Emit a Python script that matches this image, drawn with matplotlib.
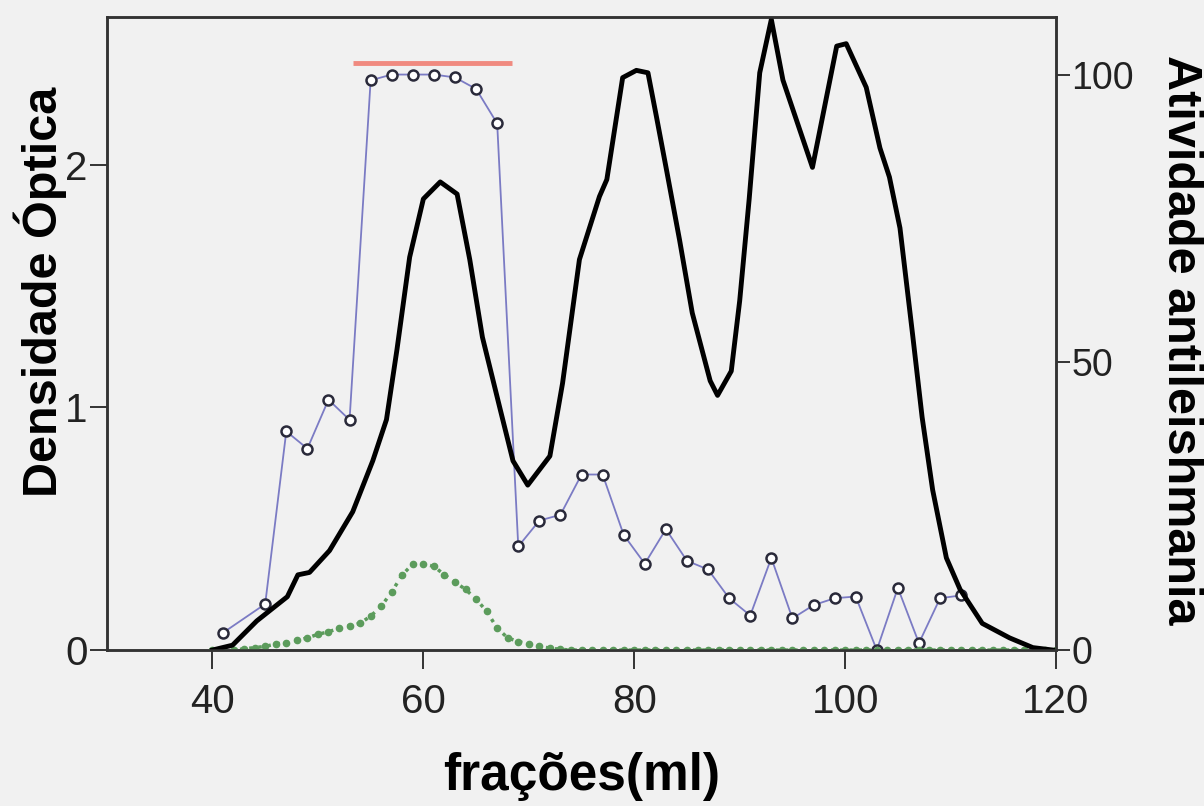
import matplotlib.pyplot as plt

plt.rcParams['font.family'] = ['Liberation Sans', 'DejaVu Sans']

# densidade optica (eixo esquerdo), linha preta
od_x = [40, 41.9, 44.2, 47.1, 48.1, 49.2, 51.1, 53.3, 55.2, 56.5,
        57.5, 58.7, 60.0, 61.6, 63.2, 64.4, 65.6, 67.3, 68.5, 69.9,
        72.0, 73.2, 74.8, 76.7, 77.4, 78.9, 80.2, 81.3, 82.1, 83.1,
        84.3, 85.5, 87.2, 87.9, 89.2, 90.0, 90.9, 91.9, 93.0, 94.1,
        96.9, 99.2, 100.1, 102.0, 103.3, 104.2, 105.2, 106.4, 107.3, 108.3,
        109.6, 110.9, 113.0, 115.6, 117.8, 119.7]
od_y = [0.0, 0.02, 0.12, 0.22, 0.31, 0.32, 0.41, 0.57, 0.78, 0.95,
        1.24, 1.62, 1.86, 1.93, 1.88, 1.61, 1.29, 0.99, 0.78, 0.68,
        0.80, 1.10, 1.61, 1.87, 1.94, 2.36, 2.39, 2.38, 2.20, 1.97,
        1.69, 1.39, 1.11, 1.05, 1.15, 1.44, 1.86, 2.38, 2.60, 2.35,
        1.99, 2.49, 2.50, 2.32, 2.07, 1.95, 1.74, 1.30, 0.96, 0.66,
        0.38, 0.25, 0.11, 0.05, 0.01, 0.0]

# segunda leitura (eixo esquerdo), pontos verdes
green_x = list(range(40, 121))
green_y = [0, 0, 0, 0.005, 0.01, 0.015, 0.025, 0.03, 0.04, 0.05,
           0.065, 0.075, 0.09, 0.10, 0.11, 0.14, 0.18, 0.24, 0.31, 0.355,
           0.355, 0.345, 0.31, 0.28, 0.25, 0.21, 0.16, 0.09, 0.05, 0.035,
           0.025, 0.015, 0.008, 0.003, 0, 0, 0, 0, 0, 0,
           0, 0, 0, 0, 0, 0, 0, 0, 0, 0,
           0, 0, 0, 0, 0, 0, 0, 0, 0, 0,
           0, 0, 0, 0, 0, 0, 0, 0, 0, 0,
           0, 0, 0, 0, 0, 0, 0, 0, 0, 0,
           0]

# atividade antileishmania (eixo direito)
act_x = [41, 45, 47, 49, 51, 53, 55, 57, 59, 61, 63, 65, 67, 69, 71, 73, 75, 77,
         79, 81, 83, 85, 87, 89, 91, 93, 95, 97, 99, 101, 103, 105, 107, 109, 111]
act_y = [3, 8, 38, 35, 43.5, 40, 99, 100, 100, 100, 99.5, 97.5, 91.5, 18, 22.5,
         23.5, 30.5, 30.5, 20, 15, 21, 15.5, 14, 9, 6, 16, 5.5, 7.8, 9, 9.3,
         0, 10.8, 1.2, 9, 9.5]

# faixa ativa (barra vermelha)
bar_x = [53.3, 68.4]
bar_y = [102, 102]

bg = '#f1f1f1'
fig = plt.figure(figsize=(12.04, 8.06), dpi=100, facecolor=bg)
ax = fig.add_axes([0.0889, 0.1935, 0.7882, 0.7854])
ax2 = ax.twinx()
ax2.set_facecolor(bg)
ax.set_zorder(ax2.get_zorder() + 1)
ax.patch.set_visible(False)

ax2.plot(act_x, act_y, color='#7b7bc4', lw=1.3, marker='o', ms=7.2,
         mfc='white', mec='#2a2a3a', mew=1.8)
ax2.plot(bar_x, bar_y, color='#f08a80', lw=3.5, solid_capstyle='butt')

ax.plot(green_x, green_y, color='#5c9c5c', lw=2.5, ls=':', marker='o', ms=4.5,
        mec='#5c9c5c', mfc='#5c9c5c')
ax.plot(od_x, od_y, color='black', lw=3.5, solid_joinstyle='round')

ax.set_xlim(30, 120)
ax.set_ylim(0, 2.61)
ax2.set_ylim(0, 110)

ax.set_xticks([40, 60, 80, 100, 120])
ax.set_yticks([0, 1, 2])
ax2.set_yticks([0, 50, 100])

for a in (ax, ax2):
    for s in a.spines.values():
        s.set_color('#333333')
        s.set_linewidth(1.8)

ax.tick_params(axis='x', direction='out', length=14, width=1.4, labelsize=29,
               colors='#333333', labelcolor='#222222', pad=10)
ax.tick_params(axis='y', direction='out', length=12, width=1.4, labelsize=29,
               colors='#333333', labelcolor='#222222', pad=2)
ax2.tick_params(axis='y', direction='out', length=10, width=1.4, labelsize=27,
                colors='#333333', labelcolor='#222222', pad=1)

fig.text(40 / 1204, 1 - 292 / 806, 'Densidade Óptica', rotation=90,
         ha='center', va='center', fontsize=35, fontweight='bold')
fig.text(1180 / 1204, 1 - 340 / 806, 'Atividade antileishmania', rotation=270,
         ha='center', va='center', fontsize=35, fontweight='bold')
fig.text(582 / 1204, 1 - 790 / 806, 'frações(ml)',
         ha='center', va='baseline', fontsize=37, fontweight='bold')

fig.savefig('out.png', dpi=100, facecolor=bg)
